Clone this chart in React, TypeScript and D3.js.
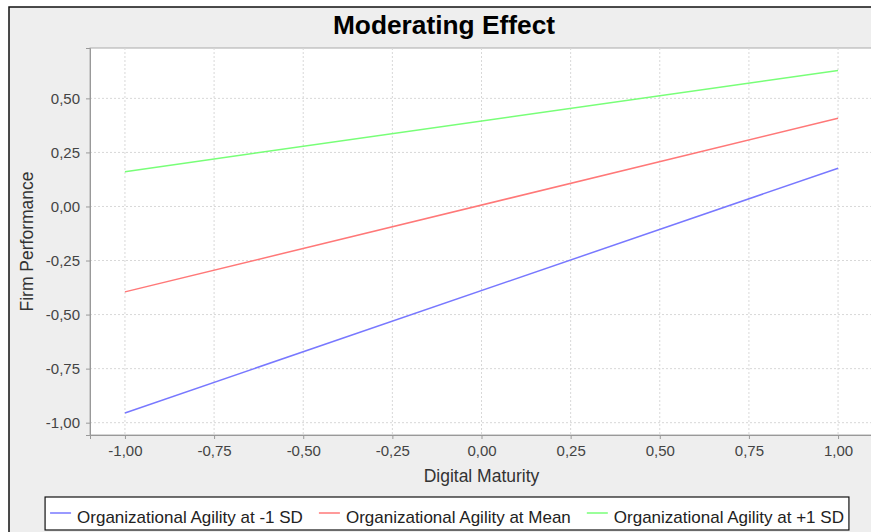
import React, { useEffect, useRef } from "react";
import * as d3 from "d3";

const xValues = [-1, 1];
const seriesNames = [
  "Organizational Agility at -1 SD",
  "Organizational Agility at Mean",
  "Organizational Agility at +1 SD",
];
const lowSD = [-0.955, 0.177];
const mean = [-0.395, 0.408];
const highSD = [0.161, 0.629];
const colors = ["#7878ff", "#ff7878", "#78ff78"];
const xTicks = [-1, -0.75, -0.5, -0.25, 0, 0.25, 0.5, 0.75, 1];
const yTicks = [-1, -0.75, -0.5, -0.25, 0, 0.25, 0.5];

const fmt = (v: number) => d3.format(".2f")(v).replace(".", ",").replace("−", "-");

export default function App() {
  const svgRef = useRef<SVGSVGElement>(null);

  useEffect(() => {
    const W = 871;
    const H = 532;
    const font = "'Liberation Sans', Arial, sans-serif";
    const svg = d3.select(svgRef.current).attr("width", W).attr("height", H);
    svg.selectAll("*").remove();

    // chart panel
    svg.append("rect").attr("width", W).attr("height", H).attr("fill", "#fff");
    svg
      .append("rect")
      .attr("x", 9)
      .attr("y", 7)
      .attr("width", W + 20)
      .attr("height", H + 20)
      .attr("fill", "#eeeeee")
      .attr("stroke", "#111")
      .attr("stroke-width", 1.5);

    const left = 90;
    const top = 48;
    const bottom = 435;
    const right = 873;

    const x = d3.scaleLinear().domain([-1.098, 1.098]).range([left, right]);
    const y = d3.scaleLinear().domain([0.733, -1.057]).range([top, bottom]);

    svg
      .append("rect")
      .attr("x", left)
      .attr("y", top)
      .attr("width", right - left)
      .attr("height", bottom - top)
      .attr("fill", "#fff")
      .attr("stroke", "#aaa");

    const grid = svg.append("g").attr("stroke", "#d8d8d8").attr("stroke-dasharray", "2,2");
    xTicks.forEach((t) => {
      grid.append("line").attr("x1", x(t)).attr("x2", x(t)).attr("y1", top).attr("y2", bottom);
    });
    yTicks.forEach((t) => {
      grid.append("line").attr("x1", left).attr("x2", right).attr("y1", y(t)).attr("y2", y(t));
    });

    const xAxis = svg
      .append("g")
      .attr("transform", `translate(0,${bottom})`)
      .call(d3.axisBottom(x).tickValues(xTicks).tickFormat((d) => fmt(+d)).tickSize(4).tickPadding(5));
    const yAxis = svg
      .append("g")
      .attr("transform", `translate(${left},0)`)
      .call(d3.axisLeft(y).tickValues(yTicks).tickFormat((d) => fmt(+d)).tickSize(4).tickPadding(6));
    [xAxis, yAxis].forEach((a) => {
      a.select(".domain").attr("stroke", "#999");
      a.selectAll(".tick line").attr("stroke", "#999");
      a.selectAll(".tick text").attr("fill", "#444").style("font-family", font).style("font-size", "15px");
    });
    xAxis.selectAll(".tick text").attr("y", 21).attr("dy", 0);

    const allSeries = [lowSD, mean, highSD];
    const line = d3
      .line<number>()
      .x((_, i) => x(xValues[i]))
      .y((d) => y(d));
    allSeries.forEach((s, i) => {
      svg
        .append("path")
        .datum(s)
        .attr("d", line)
        .attr("fill", "none")
        .attr("stroke", colors[i])
        .attr("stroke-width", 1.5);
    });

    // title and axis labels
    svg
      .append("text")
      .attr("x", 444)
      .attr("y", 34)
      .attr("text-anchor", "middle")
      .style("font-family", font)
      .style("font-weight", "bold")
      .style("font-size", "26.3px")
      .text("Moderating Effect");

    svg
      .append("text")
      .attr("x", (left + right) / 2)
      .attr("y", 482)
      .attr("text-anchor", "middle")
      .attr("fill", "#333")
      .style("font-family", font)
      .style("font-size", "17.5px")
      .text("Digital Maturity");

    svg
      .append("text")
      .attr("transform", `translate(33,${(top + bottom) / 2}) rotate(-90)`)
      .attr("text-anchor", "middle")
      .attr("fill", "#333")
      .style("font-family", font)
      .style("font-size", "17.5px")
      .text("Firm Performance");

    // legend
    const legend = svg.append("g");
    const box = legend.append("rect").attr("fill", "#fff").attr("stroke", "#111").attr("stroke-width", 1.2);
    let cx = 0;
    seriesNames.forEach((name, i) => {
      legend
        .append("line")
        .attr("x1", cx + 5)
        .attr("x2", cx + 26)
        .attr("y1", 513)
        .attr("y2", 513)
        .attr("stroke", colors[i])
        .attr("stroke-width", 1.5);
      const t = legend
        .append("text")
        .attr("x", cx + 32)
        .attr("y", 523)
        .attr("fill", "#222")
        .style("font-family", font)
        .style("font-size", "17px")
        .text(name);
      const w = (t.node() as SVGTextElement).getComputedTextLength();
      cx += 32 + w + 11;
    });
    const boxW = cx - 6;
    const boxX = 447 - boxW / 2;
    legend.attr("transform", `translate(${boxX},0)`);
    box.attr("x", 0).attr("y", 497).attr("width", boxW).attr("height", 33);
  }, []);

  return <svg ref={svgRef} style={{ position: "absolute", left: 0, top: 0 }} />;
}
